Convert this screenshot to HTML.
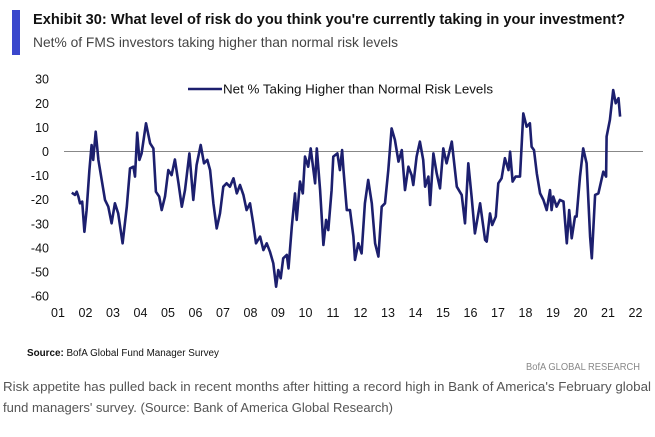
<!DOCTYPE html>
<html><head><meta charset="utf-8"><style>
body{margin:0;background:#fff;width:655px;height:432px;overflow:hidden;font-family:"Liberation Sans",sans-serif}
</style></head><body>
<svg width="655" height="432" xmlns="http://www.w3.org/2000/svg">
<rect x="12" y="10" width="8" height="45" fill="#3a47cc"/>
<text x="33" y="24" font-size="14.5" font-weight="bold" fill="#111" textLength="592" lengthAdjust="spacingAndGlyphs">Exhibit 30: What level of risk do you think you're currently taking in your investment?</text>
<text x="33" y="47" font-size="14" fill="#444" textLength="365" lengthAdjust="spacingAndGlyphs">Net% of FMS investors taking higher than normal risk levels</text>
<g id="axes"></g>
<line x1="188" y1="89" x2="222" y2="89" stroke="#1c1f6e" stroke-width="2.6"/>
<text x="223" y="93.5" font-size="12.5" fill="#111" textLength="270" lengthAdjust="spacingAndGlyphs">Net % Taking Higher than Normal Risk Levels</text>
<text x="27" y="356" font-size="10" fill="#111" textLength="192" lengthAdjust="spacingAndGlyphs"><tspan font-weight="bold">Source:</tspan> BofA Global Fund Manager Survey</text>
<text x="640" y="370" font-size="10" fill="#888" text-anchor="end" textLength="114" lengthAdjust="spacingAndGlyphs">BofA GLOBAL RESEARCH</text>
<text x="3" y="391" font-size="13" fill="#555" textLength="648" lengthAdjust="spacingAndGlyphs">Risk appetite has pulled back in recent months after hitting a record high in Bank of America's February global</text>
<text x="3" y="412" font-size="13" fill="#555" textLength="390" lengthAdjust="spacingAndGlyphs">fund managers' survey. (Source: Bank of America Global Research)</text>
</svg>
<script>
const yTicks=[30,20,10,0,-10,-20,-30,-40,-50,-60];
const xTickLabels=["01","02","03","04","05","06","07","08","09","10","11","12","13","14","15","16","17","18","19","20","21","22"];
const years=[2001.50,2001.62,2001.68,2001.74,2001.80,2001.88,2001.96,2002.04,2002.14,2002.22,2002.28,2002.37,2002.47,2002.59,2002.71,2002.83,2002.95,2003.07,2003.19,2003.35,2003.50,2003.62,2003.74,2003.80,2003.88,2003.96,2004.04,2004.20,2004.35,2004.47,2004.56,2004.68,2004.77,2004.89,2005.01,2005.13,2005.25,2005.38,2005.50,2005.62,2005.78,2005.92,2006.04,2006.19,2006.31,2006.43,2006.53,2006.65,2006.77,2006.89,2007.01,2007.13,2007.25,2007.38,2007.50,2007.62,2007.74,2007.86,2007.98,2008.10,2008.20,2008.35,2008.47,2008.59,2008.71,2008.83,2008.93,2009.01,2009.10,2009.19,2009.32,2009.38,2009.50,2009.62,2009.68,2009.80,2009.90,2009.98,2010.10,2010.19,2010.35,2010.41,2010.53,2010.65,2010.75,2010.83,2010.95,2011.01,2011.16,2011.25,2011.33,2011.38,2011.50,2011.62,2011.74,2011.80,2011.92,2012.04,2012.16,2012.28,2012.41,2012.53,2012.65,2012.77,2012.89,2013.01,2013.13,2013.25,2013.38,2013.50,2013.62,2013.74,2013.86,2013.92,2014.04,2014.16,2014.28,2014.35,2014.47,2014.53,2014.65,2014.77,2014.89,2015.01,2015.13,2015.32,2015.50,2015.68,2015.80,2015.92,2016.04,2016.16,2016.35,2016.53,2016.59,2016.71,2016.79,2016.92,2017.01,2017.13,2017.25,2017.38,2017.44,2017.53,2017.64,2017.80,2017.92,2018.04,2018.16,2018.22,2018.31,2018.41,2018.53,2018.65,2018.77,2018.89,2018.95,2019.01,2019.13,2019.25,2019.38,2019.50,2019.59,2019.68,2019.80,2019.86,2019.98,2020.10,2020.22,2020.35,2020.41,2020.53,2020.65,2020.83,2020.93,2020.95,2021.07,2021.19,2021.28,2021.38,2021.44];
const values=[-17.1,-18.0,-16.7,-18.7,-21.5,-20.8,-33.3,-24.3,-7.7,2.7,-3.5,8.2,-3.5,-11.8,-20.1,-22.9,-29.8,-21.5,-25.7,-38.1,-22.9,-7.0,-6.3,-10.4,7.8,-3.5,-0.8,11.7,3.4,1.3,-16.7,-18.7,-24.3,-18.7,-7.7,-9.8,-3.3,-13.2,-22.9,-16.0,-0.8,-20.1,-5.6,2.7,-4.9,-3.5,-7.7,-21.5,-31.9,-25.7,-14.6,-13.2,-14.6,-11.1,-17.4,-13.9,-18.0,-24.3,-21.5,-29.8,-38.1,-35.3,-40.9,-38.1,-41.6,-46.4,-56.1,-49.2,-52.6,-44.3,-42.9,-48.5,-31.2,-17.4,-28.4,-12.5,-17.4,-2.1,-6.3,1.3,-13.2,1.3,-16.0,-38.8,-28.4,-32.6,-16.0,-2.1,-0.8,-7.7,0.6,-7.7,-24.3,-24.3,-35.3,-45.0,-38.1,-42.3,-21.5,-11.8,-21.5,-38.1,-43.6,-22.9,-21.5,-7.7,9.6,4.8,-4.2,0.6,-16.0,-6.3,-9.8,-13.9,-2.1,4.1,-3.5,-14.6,-10.4,-22.2,-0.8,-9.1,-15.3,1.3,-4.9,4.1,-14.6,-18.0,-29.8,-4.9,-18.7,-34.0,-21.5,-36.7,-37.4,-25.7,-30.5,-27.0,-13.2,-11.1,-2.8,-7.7,-0.1,-12.5,-10.4,-10.4,15.8,10.3,11.7,2.0,0.6,-9.1,-17.4,-20.1,-24.3,-16.0,-24.3,-18.7,-22.9,-20.1,-20.8,-38.1,-24.3,-36.0,-27.0,-27.0,-10.4,1.3,-4.9,-35.3,-44.3,-18.0,-17.4,-8.4,-10.4,6.2,13.1,25.5,20.0,22.1,14.5];

const NS="http://www.w3.org/2000/svg";
const g=document.getElementById('axes');
function xs(yr){return 58+(yr-2001)*27.5;}
function ys(v){return 151.5-v*2.41;}
function mk(tag,attrs){const e=document.createElementNS(NS,tag);for(const k in attrs)e.setAttribute(k,attrs[k]);return e;}
yTicks.forEach(v=>{
  const t=mk('text',{x:49,y:ys(v)+4.5,'font-size':12.5,'text-anchor':'end',fill:'#111'});
  
  
  t.textContent=v;g.appendChild(t);
});
xTickLabels.forEach((l,i)=>{
  const t=mk('text',{x:xs(2001+i),y:317,'font-size':12.5,'text-anchor':'middle',fill:'#111'});
  
  
  t.textContent=l;g.appendChild(t);
});
const zl=mk('line',{x1:64,x2:643,y1:ys(0),y2:ys(0),stroke:'#888','stroke-width':1});


g.appendChild(zl);
const pts=years.map((y,i)=>xs(y).toFixed(1)+','+ys(values[i]).toFixed(1)).join(' ');
const pl=mk('polyline',{points:pts,fill:'none',stroke:'#1c1f6e','stroke-width':2.6,'stroke-linejoin':'round'});


g.appendChild(pl);
</script>
</body></html>
